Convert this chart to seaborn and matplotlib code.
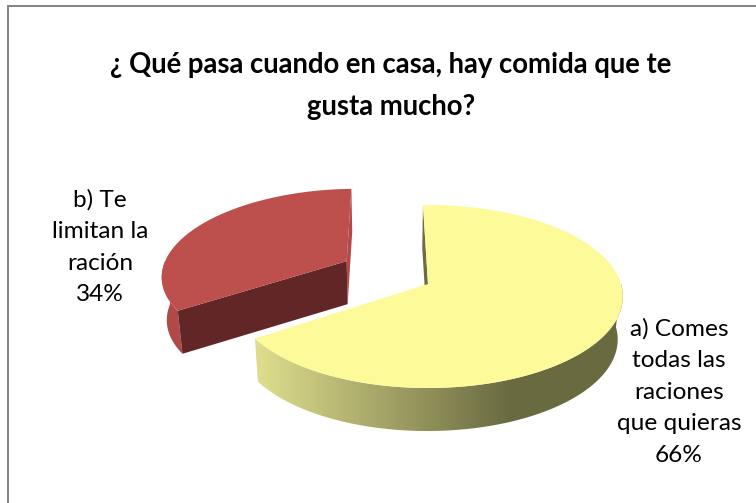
import numpy as np
import matplotlib
matplotlib.use("Agg")
import matplotlib.pyplot as plt
from matplotlib.colors import LinearSegmentedColormap
from matplotlib.patches import Polygon
import seaborn as sns

# Survey shares, in percent
category_lines = ["a) Comes\ntodas las\nraciones\nque quieras", "b) Te\nlimitan la\nración"]
shares = [66, 34]
title_text = "¿ Qué pasa cuando en casa, hay comida que te\ngusta mucho?"

sns.set_theme(style="white")
plt.rcParams["font.family"] = ["Lato", "DejaVu Sans"]

# Pie geometry in canvas pixels
CENTER = (428.0, 284.0)
RX, RY = 193.0, 89.8
PERSPECTIVE = 0.1366
DEPTH = 43.0
VANISH_X = 390.0
CONVERGE = 0.978
START_DEG = -1.7
EXPLODE = [0.0, 0.5]
RADIUS = [1.0, 0.97]
NUDGE = [(0.0, 0.0), (2.0, -3.0)]


def project(u, w):
    """Project a point of the pie's unit disc onto the canvas."""
    d = 1.0 - PERSPECTIVE * w
    return np.array([CENTER[0] + RX * u / d, CENTER[1] + RY * w / d])


def lower(p):
    """Move a top-face point down to the bottom face of the disc."""
    return np.array([VANISH_X + (p[0] - VANISH_X) * CONVERGE, p[1] + DEPTH])


def slice_outline(i, angles):
    """Return apex, arc points and front-facing mask of slice i."""
    a0, a1 = angles[i], angles[i + 1]
    mid = np.radians((a0 + a1) / 2)
    cu, cw = EXPLODE[i] * np.sin(mid), -EXPLODE[i] * np.cos(mid)
    t = np.radians(np.linspace(a0, a1, 400))
    apex = project(cu, cw)
    arc = project(cu + np.sin(t), cw - np.cos(t))
    # Shrink about the apex, then apply the slice's offset
    arc = apex[:, None] + (arc - apex[:, None]) * RADIUS[i]
    shift = np.array(NUDGE[i])
    apex = apex + shift
    arc = arc + shift[:, None]
    return apex, arc, -np.cos(t) >= 0.0


fig = plt.figure(figsize=(7.56, 5.03), dpi=100)
ax = fig.add_axes([0, 0, 1, 1])
ax.axis("off")

# Chart frame: top and left rules only
ax.plot([8, 8, 756], [503, 6, 6], color="#868686", lw=1.44, solid_joinstyle="miter")

angles = np.cumsum([START_DEG] + [s * 3.6 for s in shares])
TOP_COLORS = ["#fcfa99", "#bd4f4c"]


def face(points_a, points_b, **kw):
    """Fill the band between two runs of points."""
    return ax.fill(np.r_[points_a[0], points_b[0][::-1]], np.r_[points_a[1], points_b[1][::-1]], lw=0, **kw)


# Slice b
apex, arc, front = slice_outline(1, angles)
low_arc, low_apex = lower(arc), lower(apex)
face(arc[:, front], low_arc[:, front], color="#b04a48")
edge_end = arc[:, -1]
ax.fill([apex[0], edge_end[0], low_arc[0, -1], low_apex[0]],
        [apex[1], edge_end[1], low_arc[1, -1], low_apex[1]], color="#b14a48", lw=0)
ax.fill([apex[0], arc[0, 0], low_arc[0, 0], low_apex[0]],
        [apex[1], arc[1, 0], low_arc[1, 0], low_apex[1]], color="#622627", lw=0)
ax.fill(np.r_[apex[0], arc[0]], np.r_[apex[1], arc[1]], color=TOP_COLORS[1], lw=0)

# Slice a, with a horizontally shaded rim
apex, arc, front = slice_outline(0, angles)
low_arc, low_apex = lower(arc), lower(apex)
ax.fill([apex[0], arc[0, 0], low_arc[0, 0], low_apex[0]],
        [apex[1], arc[1, 0], low_arc[1, 0], low_apex[1]], color="#6d6d40", lw=0)
rim_xy = np.c_[np.r_[arc[0, front], low_arc[0, front][::-1]], np.r_[arc[1, front], low_arc[1, front][::-1]]]
rim = Polygon(rim_xy, closed=True, fc="none", ec="none")
ax.add_patch(rim)
rim_cmap = LinearSegmentedColormap.from_list("rim", ["#dcdc8c", "#696a40"])
ramp = np.clip((np.arange(250, 640) - 262) / (510 - 262), 0, 1)[None, :]
shade = ax.imshow(ramp, cmap=rim_cmap, vmin=0, vmax=1, aspect="auto",
                  extent=(250, 640, 450, 200), zorder=1.5)
shade.set_clip_path(rim)
ax.fill(np.r_[apex[0], arc[0]], np.r_[apex[1], arc[1]], color=TOP_COLORS[0], lw=0, zorder=2)

ax.set_xlim(0, 756)
ax.set_ylim(503, 0)

# Title and slice labels
ax.text(391, 86, title_text, ha="center", va="center", fontsize=19.8, fontweight="bold",
        color="black", linespacing=1.8)
ax.text(679, 392, f"{category_lines[0]}\n{shares[0]}%", ha="center", va="center",
        fontsize=17.6, color="black", linespacing=1.62)
ax.text(100, 247, f"{category_lines[1]}\n{shares[1]}%", ha="center", va="center",
        fontsize=17.6, color="black", linespacing=1.62)

fig.savefig("out.png", dpi=100)
